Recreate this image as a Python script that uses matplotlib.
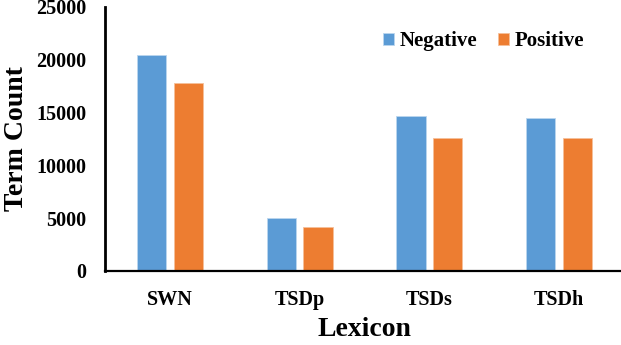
import matplotlib

matplotlib.use("Agg")

import matplotlib.pyplot as plt
import numpy as np

# Values
lexicons = ["SWN", "TSDp", "TSDs", "TSDh"]
negative_counts = [20450, 5000, 14650, 14520]
positive_counts = [17750, 4210, 12610, 12610]
y_ticks = [0, 5000, 10000, 15000, 20000, 25000]

NEGATIVE_COLOR = "#5B9BD5"
POSITIVE_COLOR = "#ED7D31"
BAR_WIDTH = 0.225
BAR_OFFSET = 0.142

plt.rcParams["font.family"] = ["Liberation Serif", "DejaVu Serif"]
plt.rcParams["font.weight"] = "bold"

fig = plt.figure(figsize=(6.21, 3.45), dpi=100)
ax = fig.add_axes([0.169, 0.2145, 0.836, 0.7655])

x = np.arange(len(lexicons))
ax.bar(x - BAR_OFFSET, negative_counts, BAR_WIDTH, color=NEGATIVE_COLOR,
       edgecolor="#BBD6EE", linewidth=0.6, label="Negative")
ax.bar(x + BAR_OFFSET, positive_counts, BAR_WIDTH, color=POSITIVE_COLOR,
       edgecolor="#F6C09A", linewidth=0.6, label="Positive")

ax.set_xlim(-0.5, len(lexicons) - 0.5)
ax.set_ylim(0, 25000)
ax.set_yticks(y_ticks)
ax.set_yticklabels([str(t) for t in y_ticks], fontsize=14.5, fontweight="bold")
ax.set_xticks(x)
ax.set_xticklabels(lexicons, fontsize=14.5, fontweight="bold")
ax.tick_params(axis="both", length=0)
ax.tick_params(axis="y", pad=13.5)
ax.tick_params(axis="x", pad=14)

for side in ("top", "right"):
    ax.spines[side].set_visible(False)
ax.spines["left"].set_linewidth(2.0)
ax.spines["bottom"].set_linewidth(1.6)

ax.set_ylabel("Term Count", fontsize=20, fontweight="bold", labelpad=5)
ax.set_xlabel("Lexicon", fontsize=20, fontweight="bold", labelpad=5)

fig.legend(loc="center", bbox_to_anchor=(0.779, 0.881), ncol=2, frameon=False,
           prop={"size": 15, "weight": "bold"}, handlelength=0.5,
           handleheight=0.5, handletextpad=0.3, columnspacing=1.0)

fig.savefig("out.png", dpi=100)
